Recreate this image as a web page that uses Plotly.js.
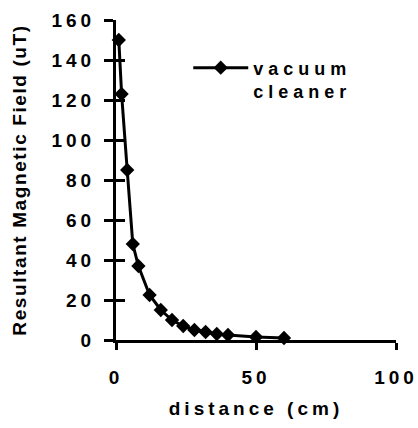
<!DOCTYPE html>
<html>
<head>
<meta charset="utf-8">
<script src="https://cdn.plot.ly/plotly-3.0.1.min.js"></script>
<style>
  html, body { margin: 0; padding: 0; background: #fff; }
  #chart { width: 418px; height: 428px; }
  .xtick text, .ytick text { letter-spacing: 4px; }
  .g-xtitle text { letter-spacing: 4px; }
  .g-ytitle text { letter-spacing: 1.6px; }
  .legendtext { letter-spacing: 5px; }
</style>
</head>
<body>
<div id="chart"></div>
<script>
// Data
const distanceCm = [1, 2, 4, 6, 8, 12, 16, 20, 24, 28, 32, 36, 40, 50, 60];
const fieldUT    = [150, 123, 85, 48, 37, 22.5, 15, 10, 7, 5, 4, 3, 2.5, 1.5, 1];
const seriesName = 'vacuum<br>cleaner';
const xTickVals = [0, 50, 100];
const yTickVals = [0, 20, 40, 60, 80, 100, 120, 140, 160];

const FONT = 'Liberation Sans, Arial, sans-serif';

const trace = {
  x: distanceCm,
  y: fieldUT,
  name: seriesName,
  type: 'scatter',
  mode: 'lines+markers',
  cliponaxis: false,
  line: { color: '#000', width: 3 },
  marker: { symbol: 'diamond', size: 11, color: '#000' }
};

// empty helper trace so the overlay axes (inner half of the crossing ticks) get drawn
const tickHelper = {
  x: [], y: [], xaxis: 'x2', yaxis: 'y2',
  type: 'scatter', mode: 'markers', showlegend: false, hoverinfo: 'skip'
};

const axisCommon = {
  showgrid: false,
  zeroline: false,
  showline: true,
  linecolor: '#000',
  linewidth: 3,
  tickcolor: '#000',
  tickwidth: 3,
  tickfont: { family: FONT, size: 19, color: '#000', weight: 'bold' }
};

const layout = {
  width: 418,
  height: 428,
  margin: { l: 116, r: 22, t: 20, b: 88 },
  paper_bgcolor: '#fff',
  plot_bgcolor: '#fff',
  showlegend: true,
  legend: {
    x: 0.258, y: 0.908, xanchor: 'left', yanchor: 'top',
    itemwidth: 55,
    valign: 'top',
    bgcolor: 'rgba(0,0,0,0)',
    font: { family: FONT, size: 18, color: '#000', weight: 'bold' }
  },
  xaxis: Object.assign({}, axisCommon, {
    range: [0, 100],
    tickmode: 'array', tickvals: xTickVals,
    ticks: 'outside', ticklen: 7,
    ticklabelstandoff: 11,
    title: { text: 'distance (cm)', standoff: 15,
      font: { family: FONT, size: 19, color: '#000', weight: 'bold' } }
  }),
  yaxis: Object.assign({}, axisCommon, {
    range: [0, 160],
    tickmode: 'array', tickvals: yTickVals,
    ticks: 'outside', ticklen: 9,
    ticklabelstandoff: 5,
    title: { text: 'Resultant Magnetic Field (uT)', standoff: 20,
      font: { family: FONT, size: 19, color: '#000', weight: 'bold' } }
  }),
  xaxis2: {
    overlaying: 'x', anchor: 'y2', side: 'bottom',
    range: [0, 100], tickmode: 'array', tickvals: xTickVals,
    ticks: 'inside', ticklen: 7, tickwidth: 3, tickcolor: '#000',
    showticklabels: false, showgrid: false, zeroline: false, showline: false
  },
  yaxis2: {
    overlaying: 'y', anchor: 'x2', side: 'left',
    range: [0, 160], tickmode: 'array', tickvals: yTickVals,
    ticks: 'inside', ticklen: 9, tickwidth: 3, tickcolor: '#000',
    showticklabels: false, showgrid: false, zeroline: false, showline: false
  }
};

Plotly.newPlot('chart', [trace, tickHelper], layout, { staticPlot: true, displayModeBar: false });
</script>
</body>
</html>
